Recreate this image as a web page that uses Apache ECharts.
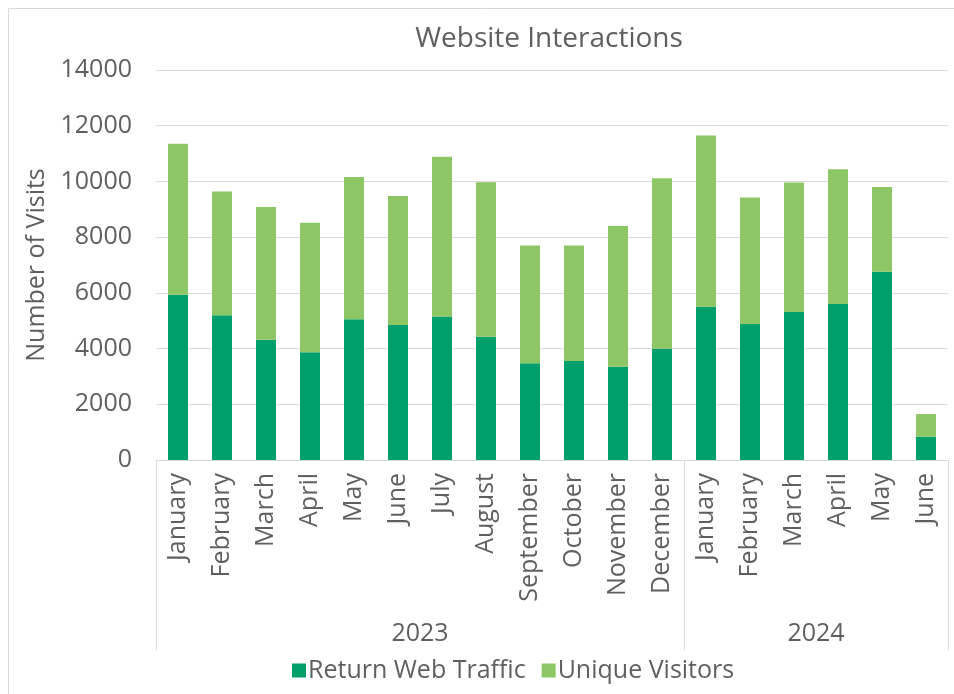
<!DOCTYPE html>
<html>
<head>
<meta charset="utf-8">
<script src="https://cdn.jsdelivr.net/npm/echarts@6/dist/echarts.min.js"></script>
<style>
  html, body { margin: 0; padding: 0; background: #fff; }
  #chart { width: 954px; height: 694px; }
</style>
</head>
<body>
<div id="chart"></div>
<script>
// months shown on the lower axis
var months = ['January', 'February', 'March', 'April', 'May', 'June', 'July', 'August',
  'September', 'October', 'November', 'December',
  'January', 'February', 'March', 'April', 'May', 'June']
// year groups and how many months each covers
var years = ['2023', '2024']
var yearCounts = [12, 6]
// values
var returnTraffic = [5930, 5200, 4320, 3870, 5050, 4850, 5150, 4420, 3470, 3550, 3350, 3990,
  5500, 4880, 5310, 5600, 6760, 840]
var uniqueVisitors = [5420, 4440, 4760, 4650, 5110, 4630, 5740, 5550, 4230, 4150, 5050, 6120,
  6150, 4540, 4650, 4840, 3040, 810]

var font = 'Open Sans'
var textColor = '#5f5f5f'
var lineColor = '#d9d9d9'

// group boundaries and middles on a 0..n scale
var bounds = [0]
var mids = []
yearCounts.forEach(function(c, i) {
  mids.push(bounds[i] + c / 2)
  bounds.push(bounds[i] + c)
})

var chart = echarts.init(document.getElementById('chart'))
chart.setOption({
  backgroundColor: '#fff',
  animation: false,
  textStyle: { fontFamily: font },
  title: {
    text: 'Website Interactions',
    left: 544,
    textAlign: 'center',
    top: 20,
    textStyle: { fontFamily: font, fontSize: 28, fontWeight: 'normal', color: textColor }
  },
  legend: {
    left: 287,
    top: 653,
    icon: 'rect',
    itemWidth: 14,
    itemHeight: 14,
    itemGap: 16,
    textStyle: { fontFamily: font, fontSize: 25, color: textColor, padding: [0, 0, 0, -3] },
    data: ['Return Web Traffic', 'Unique Visitors']
  },
  grid: { left: 156, right: 6, top: 70, bottom: 234 },
  xAxis: [{
    type: 'category',
    data: months,
    axisLine: { lineStyle: { color: lineColor } },
    axisTick: { show: false },
    axisLabel: { rotate: 90, interval: 0, fontSize: 25, color: textColor, margin: 13 }
  }, {
    type: 'value',
    position: 'bottom',
    min: 0,
    max: bounds[bounds.length - 1],
    axisLine: { show: false },
    splitLine: { show: false },
    axisTick: {
      show: true,
      customValues: bounds,
      length: 190,
      lineStyle: { color: lineColor }
    },
    axisLabel: {
      customValues: mids,
      margin: 161,
      fontSize: 25,
      color: textColor,
      formatter: function(v) { return years[mids.indexOf(v)] }
    }
  }],
  yAxis: {
    type: 'value',
    min: 0,
    max: 14000,
    interval: 2000,
    name: 'Number of Visits',
    nameLocation: 'middle',
    nameGap: 99,
    nameTextStyle: { fontSize: 25, color: textColor },
    axisLine: { show: false },
    axisTick: { show: false },
    splitLine: { lineStyle: { color: lineColor } },
    axisLabel: {
      fontSize: 25,
      color: textColor,
      margin: 24,
      formatter: function(v) { return String(v) }
    }
  },
  series: [{
    name: 'Return Web Traffic',
    type: 'bar',
    stack: 'visits',
    barWidth: 20,
    itemStyle: { color: '#009f6b' },
    data: returnTraffic
  }, {
    name: 'Unique Visitors',
    type: 'bar',
    stack: 'visits',
    barWidth: 20,
    itemStyle: { color: '#8cc665' },
    data: uniqueVisitors
  }],
  graphic: [{
    type: 'rect',
    shape: { x: 8.5, y: 8.5, width: 960, height: 700 },
    style: { fill: 'none', stroke: lineColor, lineWidth: 1 },
    silent: true
  }]
})
</script>
</body>
</html>
